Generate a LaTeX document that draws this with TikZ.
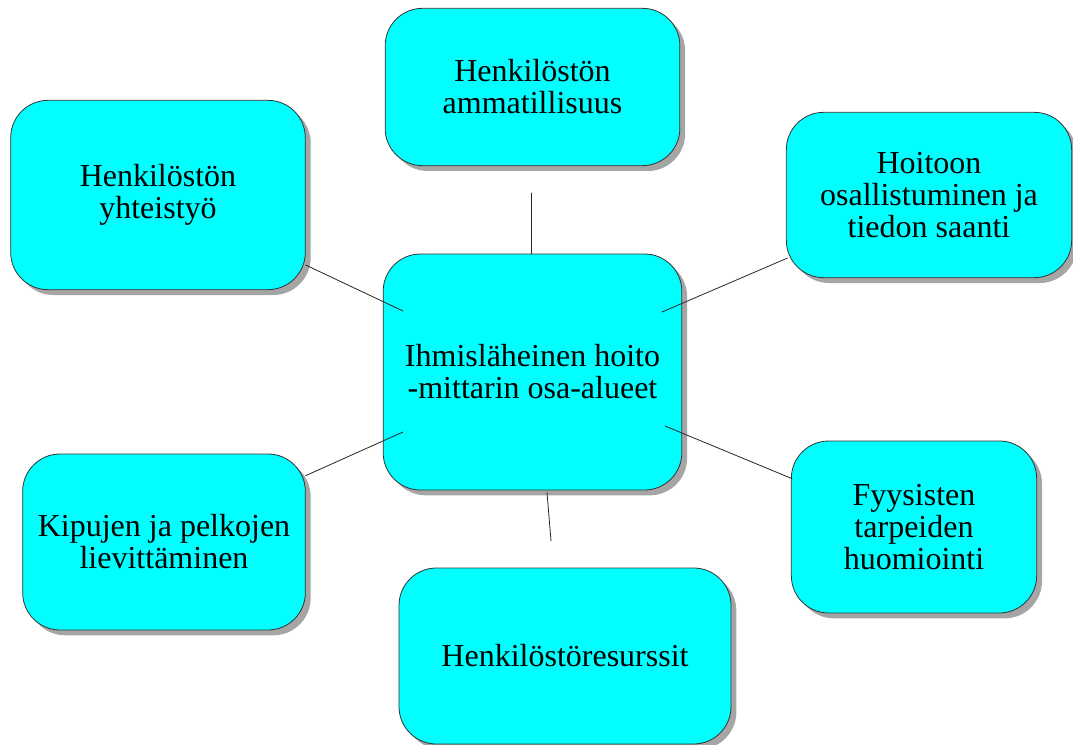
\documentclass[tikz,border=0pt]{standalone}
\usepackage{fontspec}
\setmainfont{Liberation Serif}
\usepackage{tikz}
\usetikzlibrary{shadows}
\usetikzlibrary{positioning}

\definecolor{turkoosi}{RGB}{0,255,255}
\tikzset{
  osa/.style={draw=black!80, line width=0.6pt, fill=turkoosi, rounded corners=28pt,
    align=center, inner sep=0pt,
    font=\fontsize{24}{24}\selectfont,
    drop shadow={shadow xshift=4pt, shadow yshift=-4pt, opacity=0.5, fill=black!70}},
  yhteys/.style={line width=0.6pt, draw=black!85}
}

\begin{document}
\begin{tikzpicture}[line cap=round,line join=round,x=0.75pt,y=-0.75pt]
\useasboundingbox (0,0) rectangle (1073,745);
\node[osa, minimum width=221pt, minimum height=118pt] (amm) at (532.5,87) {Henkilöstön\\ammatillisuus};
\node[osa, minimum width=221pt, minimum height=142pt] (yht) at (158,195) {Henkilöstön\\yhteistyö};
\node[osa, minimum width=214pt, minimum height=124pt] (hoi) at (929,195) {Hoitoon\\osallistuminen ja\\tiedon saanti};
\node[osa, minimum width=224pt, minimum height=177pt] (keski) at (532.5,372) {Ihmisläheinen hoito\\-mittarin osa-alueet};
\node[osa, minimum width=212pt, minimum height=132pt] (kip) at (164,542) {Kipujen ja pelkojen\\lievittäminen};
\node[osa, minimum width=184pt, minimum height=129pt] (fyy) at (914,527) {Fyysisten\\tarpeiden\\huomiointi};
\node[osa, minimum width=249pt, minimum height=132pt] (res) at (565,656) {Henkilöstöresurssit};
% viivojen vapaat päät
\coordinate (ylos) at (531,193);
\coordinate (vy) at (403,311);
\coordinate (oy) at (662,312);
\coordinate (va) at (403,432);
\coordinate (oa) at (665,426);
\coordinate (alas) at (551,541);
\draw[yhteys] (ylos) -- (keski.north -| ylos);
\draw[yhteys] ([shift={(0,-25)}]yht.south east) -- (vy);
\draw[yhteys] (oy) -- ([shift={(1.5,-20)}]hoi.south west);
\draw[yhteys] ([shift={(0,22)}]kip.north east) -- (va);
\draw[yhteys] (oa) -- ([shift={(1,38)}]fyy.north west);
\draw[yhteys] ([shift={(14.5,2)}]keski.south) -- (alas);
\end{tikzpicture}
\end{document}
